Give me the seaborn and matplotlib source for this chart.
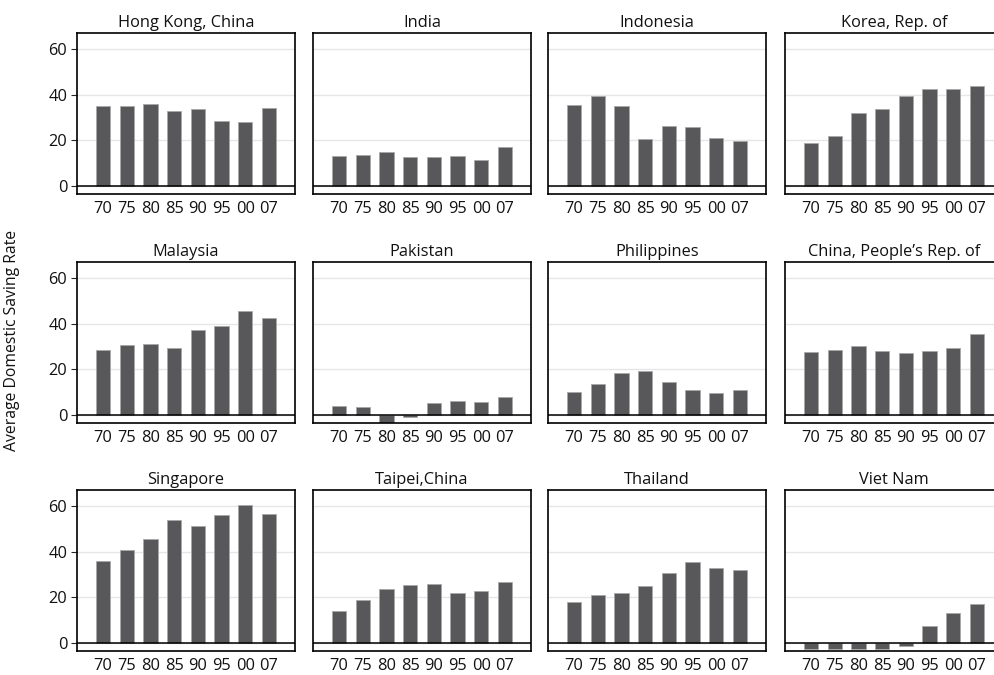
import matplotlib
matplotlib.use("Agg")
import matplotlib.pyplot as plt
import seaborn as sns
import pandas as pd

years = ["70", "75", "80", "85", "90", "95", "00", "07"]

economies = [
    "Hong Kong, China", "India", "Indonesia", "Korea, Rep. of",
    "Malaysia", "Pakistan", "Philippines", "China, People\u2019s Rep. of",
    "Singapore", "Taipei,China", "Thailand", "Viet Nam",
]

hong_kong = [35.0, 34.8, 36.0, 33.0, 33.5, 28.5, 28.0, 34.0]
india = [13.0, 13.5, 15.0, 12.5, 12.5, 13.0, 11.5, 17.0]
indonesia = [35.5, 39.2, 35.0, 20.7, 26.0, 25.7, 21.0, 19.5]
korea = [18.8, 22.0, 31.7, 33.5, 39.2, 42.3, 42.3, 43.6]
malaysia = [28.5, 30.5, 31.2, 29.5, 37.2, 39.0, 45.6, 42.4]
pakistan = [3.8, 3.5, -5.0, -0.8, 5.0, 6.0, 5.5, 7.7]
philippines = [10.2, 13.3, 18.2, 19.0, 14.3, 11.0, 9.7, 11.0]
china = [27.5, 28.4, 30.0, 28.0, 27.0, 27.8, 29.5, 35.6]
singapore = [36.0, 40.5, 45.5, 54.0, 51.3, 56.2, 60.3, 56.4]
taipei = [14.0, 18.6, 23.4, 25.4, 25.6, 22.0, 22.8, 26.5]
thailand = [18.0, 21.0, 22.0, 25.0, 30.6, 35.6, 33.0, 32.0]
viet_nam = [-2.7, -2.7, -2.7, -2.7, -1.6, 7.3, 13.0, 17.0]

series = [hong_kong, india, indonesia, korea, malaysia, pakistan,
          philippines, china, singapore, taipei, thailand, viet_nam]

y_ticks = [0, 20, 40, 60]

sns.set_theme(style="white")
plt.rcParams["font.family"] = ["Open Sans", "DejaVu Sans"]

W, H = 995, 675
fig = plt.figure(figsize=(W / 100, H / 100), dpi=100)

col_left = [77, 313, 548, 785]
row_top = [33, 262, 490]
ax_w, ax_h = 218, 161

bar_color = "#58585a"
text_color = "#111111"

for i, (name, vals) in enumerate(zip(economies, series)):
    r, c = divmod(i, 4)
    left = col_left[c] / W
    bottom = 1 - (row_top[r] + ax_h) / H
    ax = fig.add_axes([left, bottom, ax_w / W, ax_h / H])
    df = pd.DataFrame({"year": years, "rate": vals})
    sns.barplot(data=df, x="year", y="rate", order=years, ax=ax,
                color=bar_color, saturation=1, width=0.6,
                edgecolor="#a8a8a8", linewidth=0.6, errorbar=None)
    ax.set_xlim(-1.1, 8.1)
    ax.set_ylim(-3.6, 67)
    ax.set_yticks(y_ticks)
    ax.yaxis.grid(True, color="#e6e6e6", linewidth=1.0)
    ax.set_axisbelow(True)
    ax.axhline(0, color="black", linewidth=1.1, zorder=3)
    for s in ax.spines.values():
        s.set_visible(True)
        s.set_color("black")
        s.set_linewidth(1.2)
    ax.set_xlabel("")
    ax.set_ylabel("")
    ax.set_title(name, fontsize=11.8, pad=4, color=text_color)
    ax.tick_params(axis="x", length=0, pad=5, labelsize=11.8,
                   labelcolor=text_color)
    if c == 0:
        ax.tick_params(axis="y", left=True, length=4, width=0.8,
                       pad=3, labelsize=11.8, labelcolor=text_color)
    else:
        ax.tick_params(axis="y", left=False, labelleft=False)

fig.text(12 / W, 1 - 340 / H, "Average Domestic Saving Rate",
         rotation=90, va="center", ha="center", fontsize=11.3,
         color=text_color)

fig.savefig("out.png", dpi=100, facecolor="white")
